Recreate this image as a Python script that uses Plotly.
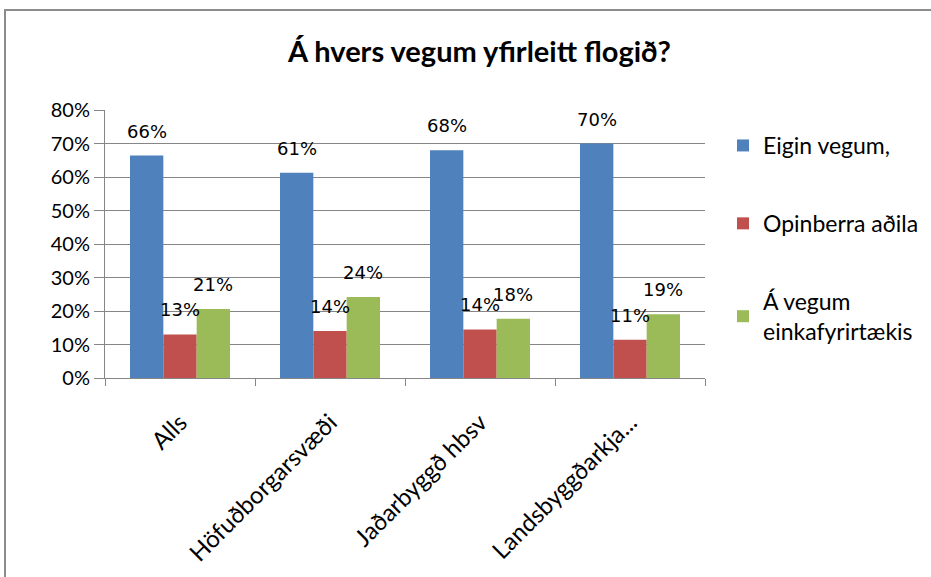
import plotly.graph_objects as go

categories = ["Alls", "Höfuðborgarsvæði", "Jaðarbyggð hbsv", "Landsbyggðarkja..."]
eigin = [0.664, 0.613, 0.680, 0.700]
opinberra = [0.130, 0.140, 0.145, 0.114]
einka = [0.206, 0.242, 0.177, 0.190]

series_names = ["Eigin vegum,", "Opinberra aðila", "Á vegum<br>einkafyrirtækis"]
colors = ["#4F81BD", "#C0504D", "#9BBB59"]
all_series = [eigin, opinberra, einka]

fig = go.Figure()
for i, (name, vals, col) in enumerate(zip(series_names, all_series, colors)):
    fig.add_trace(go.Bar(x=categories, y=vals, name=name, marker_color=col,
                         marker_line_width=0, legendgroup=str(i)))

# data labels, placed above each bar like excel does
bargap = 1 / 3
bw = (1 - bargap) / 3
for j, vals in enumerate(all_series):
    off = (j - 1) * bw
    for i, v in enumerate(vals):
        fig.add_annotation(x=i + off, y=v, text=f"{round(v * 100):.0f}%",
                           showarrow=False, yanchor="bottom", yshift=12,
                           font=dict(family="DejaVu Sans", size=18, color="#000"))

grid = "#868686"
fig.update_layout(
    width=931, height=577,
    margin=dict(l=105, r=226, t=110, b=199, autoexpand=False),
    paper_bgcolor="white", plot_bgcolor="white",
    barmode="group", bargap=bargap, bargroupgap=0,
    title=dict(text="Á hvers vegum yfirleitt flogið?", x=0.515, xanchor="center",
               y=1 - 52 / 577, yanchor="middle",
               font=dict(family="Lato", size=29, color="#000", weight="bold")),
    font=dict(family="Lato", size=20, color="#000"),
    legend=dict(xref="container", yref="container", x=723 / 931, xanchor="left",
                y=1 - 124 / 577, yanchor="top",
                font=dict(family="Lato", size=23), tracegroupgap=45,
                bgcolor="rgba(0,0,0,0)"),
    showlegend=True,
)
fig.update_xaxes(showline=True, linecolor=grid, linewidth=1, ticks="outside",
                 tickson="boundaries", ticklen=7, tickcolor=grid, tickangle=-45,
                 ticklabelstandoff=20, tickfont=dict(family="Lato", size=24))
fig.update_yaxes(range=[0, 0.8], dtick=0.1, tickformat=".0%", showgrid=True,
                 gridcolor=grid, gridwidth=1, showline=True, linecolor=grid,
                 ticks="outside", ticklen=10, tickcolor=grid, zeroline=False,
                 tickfont=dict(family="Lato", size=20))

# chart frame
fig.add_shape(type="rect", xref="paper", yref="paper",
              x0=(5 - 105) / 600, x1=1.6, y0=-0.9, y1=(378 - 10) / 268,
              line=dict(color="#8c8c8c", width=2), layer="below")

fig.write_html("out.html", config={"displayModeBar": False},
               post_script="document.body.style.margin='0';")
